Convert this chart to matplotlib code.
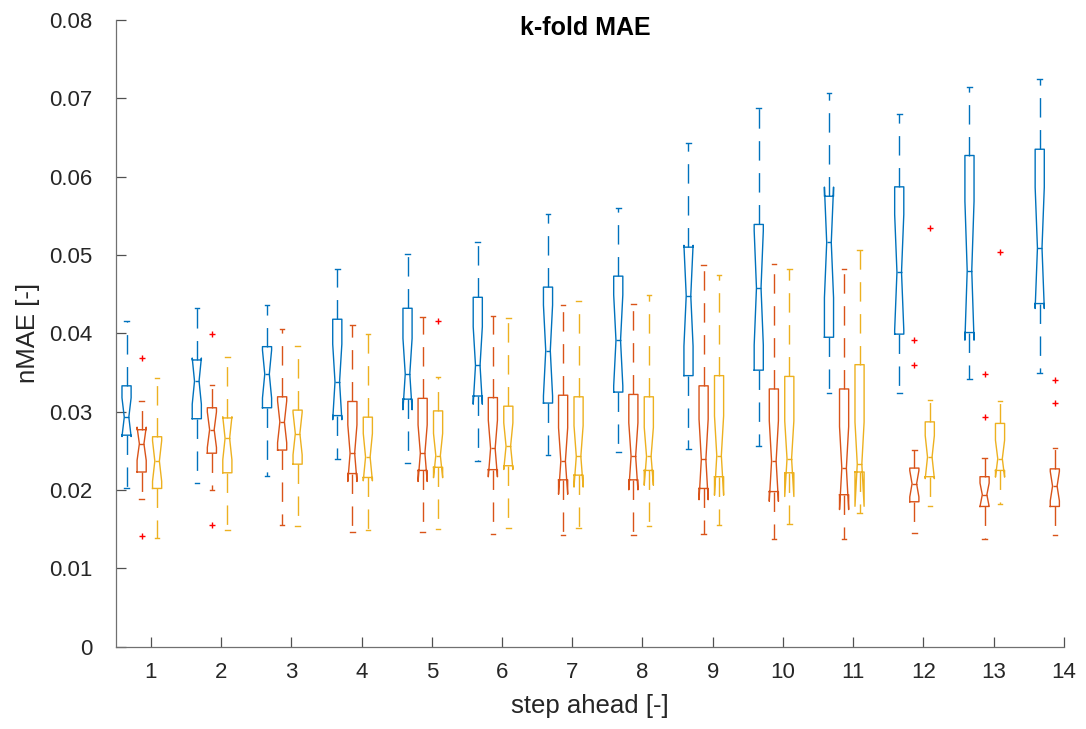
import numpy as np
import matplotlib
matplotlib.use('Agg')
import matplotlib.pyplot as plt
from matplotlib.ticker import FuncFormatter

# step ahead categories
steps = list(range(1, 15))

# series 1 (blue)
blue_lo = [0.0202, 0.0209, 0.0218, 0.0239, 0.0235, 0.0237, 0.0245, 0.0249, 0.0252, 0.0256, 0.0324, 0.0324, 0.0342, 0.0350]
blue_q1 = [0.0270, 0.0291, 0.0305, 0.0295, 0.0316, 0.0320, 0.0311, 0.0325, 0.0346, 0.0353, 0.0395, 0.0399, 0.0401, 0.0438]
blue_med = [0.0293, 0.0339, 0.0348, 0.0338, 0.0348, 0.0359, 0.0378, 0.0391, 0.0448, 0.0458, 0.0516, 0.0478, 0.0480, 0.0509]
blue_q3 = [0.0333, 0.0366, 0.0383, 0.0418, 0.0432, 0.0446, 0.0459, 0.0473, 0.0510, 0.0539, 0.0575, 0.0587, 0.0627, 0.0635]
blue_hi = [0.0416, 0.0432, 0.0436, 0.0482, 0.0501, 0.0517, 0.0552, 0.0560, 0.0643, 0.0688, 0.0707, 0.0680, 0.0715, 0.0725]
blue_out = [[] for _ in steps]

# series 2 (red/orange)
red_lo = [0.0189, 0.0200, 0.0155, 0.0146, 0.0146, 0.0144, 0.0142, 0.0143, 0.0144, 0.0137, 0.0137, 0.0145, 0.0137, 0.0142]
red_q1 = [0.0223, 0.0247, 0.0251, 0.0221, 0.0225, 0.0226, 0.0213, 0.0213, 0.0202, 0.0198, 0.0194, 0.0185, 0.0179, 0.0179]
red_med = [0.0259, 0.0277, 0.0287, 0.0247, 0.0247, 0.0253, 0.0237, 0.0243, 0.0239, 0.0237, 0.0228, 0.0208, 0.0194, 0.0205]
red_q3 = [0.0277, 0.0305, 0.0319, 0.0313, 0.0317, 0.0318, 0.0321, 0.0322, 0.0333, 0.0329, 0.0329, 0.0228, 0.0217, 0.0227]
red_hi = [0.0314, 0.0334, 0.0406, 0.0411, 0.0421, 0.0422, 0.0436, 0.0438, 0.0487, 0.0488, 0.0482, 0.0251, 0.0241, 0.0254]
red_out = [[0.0369, 0.0141], [0.0399, 0.0155], [], [], [], [], [], [], [], [], [],
           [0.0391, 0.0359], [0.0348, 0.0293], [0.0341, 0.0311]]

# series 3 (yellow)
yel_lo = [0.0139, 0.0149, 0.0154, 0.0149, 0.0150, 0.0151, 0.0151, 0.0154, 0.0155, 0.0156, 0.0171, 0.0179, 0.0182, 0.0187]
yel_q1 = [0.0202, 0.0222, 0.0233, 0.0216, 0.0229, 0.0231, 0.0219, 0.0225, 0.0217, 0.0222, 0.0223, 0.0217, 0.0225, 0.0232]
yel_med = [0.0237, 0.0266, 0.0272, 0.0242, 0.0244, 0.0256, 0.0243, 0.0243, 0.0244, 0.0240, 0.0233, 0.0242, 0.0240, 0.0244]
yel_q3 = [0.0268, 0.0292, 0.0302, 0.0293, 0.0301, 0.0307, 0.0319, 0.0319, 0.0346, 0.0345, 0.0360, 0.0287, 0.0285, 0.0310]
yel_hi = [0.0343, 0.0370, 0.0384, 0.0399, 0.0344, 0.0419, 0.0441, 0.0449, 0.0475, 0.0482, 0.0506, 0.0315, 0.0314, 0.0364]
yel_out = [[], [], [], [], [0.0416], [], [], [], [], [], [], [0.0535], [0.0504], [0.0502]]

N_FOLDS = 16  # samples per box, used for the notch (MATLAB style)


def make_stats(lo, q1, med, q3, hi, out):
    """Build bxp stats dicts, notch = med +/- 1.57*IQR/sqrt(n)"""
    stats = []
    for a, b, c, d, e, f in zip(lo, q1, med, q3, hi, out):
        half = 1.57 * (d - b) / np.sqrt(N_FOLDS)
        stats.append(dict(whislo=a, q1=b, med=c, q3=d, whishi=e, fliers=f,
                          cilo=c - half, cihi=c + half))
    return stats


series = [
    (make_stats(blue_lo, blue_q1, blue_med, blue_q3, blue_hi, blue_out), -0.345, '#0072BD'),
    (make_stats(red_lo, red_q1, red_med, red_q3, red_hi, red_out), -0.13, '#D95319'),
    (make_stats(yel_lo, yel_q1, yel_med, yel_q3, yel_hi, yel_out), 0.09, '#EDB120'),
]

plt.rcParams['font.family'] = ['Liberation Sans', 'DejaVu Sans']

fig = plt.figure(figsize=(10.86, 7.29), dpi=100)
ax = fig.add_axes([0.1065, 0.1129, 0.8732, 0.8597])

width = 0.13
for stats, offset, color in series:
    pos = [s + offset for s in steps]
    ax.bxp(stats, positions=pos, widths=width, shownotches=True,
           capwidths=width * 0.5, manage_ticks=False,
           boxprops=dict(color=color, linewidth=1.0),
           medianprops=dict(color=color, linewidth=1.0),
           whiskerprops=dict(color=color, linewidth=1.0, linestyle=(0, (14, 9))),
           capprops=dict(color=color, linewidth=1.0),
           flierprops=dict(marker='+', markeredgecolor='#FF0000', markersize=5,
                           markeredgewidth=1.0, linestyle='none'))

ax.set_xlim(0.5, 14)
ax.set_ylim(0, 0.08)
ax.set_xticks(steps)
ax.set_yticks(np.arange(0, 0.081, 0.01))
ax.yaxis.set_major_formatter(FuncFormatter(lambda v, p: '%g' % round(v, 4)))

for side in ['top', 'right']:
    ax.spines[side].set_visible(False)
for side in ['left', 'bottom']:
    ax.spines[side].set_color('#707070')
    ax.spines[side].set_linewidth(0.9)

ax.tick_params(axis='both', direction='in', length=7.5, width=0.9,
               color='#505050', labelcolor='#262626', labelsize=16)
ax.tick_params(axis='y', pad=17)
ax.tick_params(axis='x', pad=11)

ax.set_xlabel('step ahead [-]', fontsize=18.5, color='#262626', labelpad=8)
ax.set_ylabel('nMAE [-]', fontsize=18.5, color='#262626')
ax.yaxis.set_label_coords(-0.08, 0.5)

ax.text(0.495, 0.987, 'k-fold MAE', transform=ax.transAxes, ha='center',
        va='center', fontsize=18, fontweight='bold', color='black')

fig.savefig('out.png', dpi=100)
